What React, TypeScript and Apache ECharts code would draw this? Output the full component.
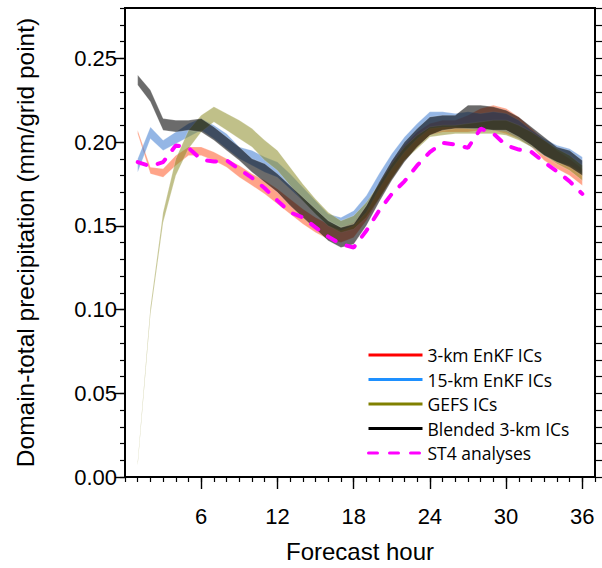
import React, { useEffect, useRef } from "react";
import * as echarts from "echarts";

const hours = [1, 2, 3, 4, 5, 6, 7, 8, 9, 10, 11, 12, 13, 14, 15, 16, 17, 18, 19, 20, 21, 22, 23, 24, 25, 26, 27, 28, 29, 30, 31, 32, 33, 34, 35, 36];

const enkf3Low = [0.205, 0.181, 0.179, 0.186, 0.192, 0.192, 0.189, 0.185, 0.179, 0.174, 0.169, 0.163, 0.157, 0.151, 0.146, 0.142, 0.140, 0.143, 0.153, 0.166, 0.178, 0.189, 0.197, 0.204, 0.206, 0.206, 0.206, 0.207, 0.207, 0.205, 0.202, 0.197, 0.189, 0.184, 0.180, 0.174];
const enkf3High = [0.207, 0.185, 0.184, 0.192, 0.197, 0.197, 0.194, 0.190, 0.186, 0.181, 0.177, 0.172, 0.166, 0.160, 0.155, 0.151, 0.149, 0.152, 0.162, 0.175, 0.188, 0.198, 0.206, 0.211, 0.213, 0.213, 0.216, 0.220, 0.222, 0.220, 0.215, 0.208, 0.201, 0.195, 0.190, 0.184];

const enkf15Low = [0.182, 0.202, 0.195, 0.199, 0.203, 0.207, 0.202, 0.196, 0.190, 0.186, 0.182, 0.179, 0.172, 0.165, 0.157, 0.150, 0.147, 0.150, 0.158, 0.172, 0.184, 0.194, 0.202, 0.208, 0.209, 0.209, 0.208, 0.207, 0.207, 0.206, 0.202, 0.197, 0.192, 0.188, 0.186, 0.181];
const enkf15High = [0.190, 0.209, 0.201, 0.206, 0.211, 0.214, 0.210, 0.205, 0.197, 0.195, 0.191, 0.188, 0.181, 0.173, 0.165, 0.157, 0.155, 0.159, 0.168, 0.181, 0.193, 0.203, 0.211, 0.218, 0.218, 0.217, 0.218, 0.217, 0.218, 0.217, 0.213, 0.207, 0.202, 0.198, 0.196, 0.191];

const gefsLow = [0.007, 0.097, 0.152, 0.180, 0.196, 0.206, 0.212, 0.207, 0.202, 0.197, 0.189, 0.183, 0.174, 0.165, 0.157, 0.150, 0.146, 0.148, 0.155, 0.166, 0.178, 0.189, 0.196, 0.203, 0.204, 0.205, 0.205, 0.205, 0.205, 0.204, 0.201, 0.197, 0.192, 0.187, 0.183, 0.177];
const gefsHigh = [0.009, 0.101, 0.158, 0.190, 0.207, 0.216, 0.221, 0.217, 0.213, 0.208, 0.201, 0.195, 0.185, 0.175, 0.166, 0.158, 0.153, 0.156, 0.164, 0.175, 0.187, 0.197, 0.204, 0.209, 0.210, 0.210, 0.211, 0.212, 0.213, 0.213, 0.210, 0.206, 0.201, 0.196, 0.192, 0.186];

const blendLow = [0.234, 0.224, 0.207, 0.206, 0.207, 0.206, 0.201, 0.195, 0.189, 0.182, 0.176, 0.170, 0.162, 0.155, 0.148, 0.141, 0.137, 0.139, 0.150, 0.164, 0.177, 0.188, 0.197, 0.204, 0.207, 0.208, 0.208, 0.208, 0.207, 0.207, 0.203, 0.198, 0.192, 0.188, 0.185, 0.180];
const blendHigh = [0.240, 0.231, 0.214, 0.213, 0.213, 0.214, 0.209, 0.203, 0.197, 0.190, 0.187, 0.181, 0.174, 0.167, 0.160, 0.153, 0.149, 0.151, 0.162, 0.176, 0.189, 0.200, 0.208, 0.215, 0.216, 0.216, 0.222, 0.222, 0.221, 0.219, 0.215, 0.209, 0.203, 0.197, 0.195, 0.189];

const st4 = [0.188, 0.1855, 0.188, 0.198, 0.1965, 0.1895, 0.1883, 0.189, 0.1838, 0.1786, 0.1724, 0.165, 0.158, 0.155, 0.149, 0.1435, 0.139, 0.137, 0.147, 0.159, 0.169, 0.1765, 0.186, 0.194, 0.1995, 0.1985, 0.1965, 0.208, 0.205, 0.198, 0.1955, 0.194, 0.188, 0.1825, 0.1765, 0.169];

const legendNames = ["3-km EnKF ICs", "15-km EnKF ICs", "GEFS ICs", "Blended 3-km ICs", "ST4 analyses"];
const legendColors = ["#ff0000", "#1e90ff", "#808000", "#000000", "#ff00ff"];

const xMajorTicks = [6, 12, 18, 24, 30, 36];
const yMajorTicks = [0, 0.05, 0.1, 0.15, 0.2, 0.25];

const AXIS_FONT = "Liberation Sans";

function bandSeries(key: string, low: number[], high: number[], color: string) {
  return {
    type: "custom",
    name: key,
    silent: true,
    z: 2,
    clip: true,
    data: hours.map((h, i) => [h, low[i], high[i]]),
    encode: { x: 0, y: [1, 2] },
    renderItem: (params: any, api: any) => {
      if (params.dataIndex !== 0) return null;
      const top: number[][] = [];
      const bottom: number[][] = [];
      for (let i = 0; i < hours.length; i++) {
        top.push(api.coord([hours[i], high[i]]));
        bottom.push(api.coord([hours[i], low[i]]));
      }
      const points = top.concat(bottom.reverse());
      return {
        type: "polygon",
        shape: { points },
        style: { fill: color, stroke: "rgba(255,255,255,0.35)", lineWidth: 0.6 },
      };
    },
  };
}

export default function App() {
  const ref = useRef<HTMLDivElement>(null);
  useEffect(() => {
    document.body.style.margin = "0";
    if (!ref.current) return;
    const chart = echarts.init(ref.current, undefined, { renderer: "svg" });
    const legendSeries = legendNames.slice(0, 4).map((n, i) => ({
      type: "line",
      name: n,
      data: [],
      symbol: "none",
      color: legendColors[i],
      lineStyle: { color: legendColors[i], width: 3 },
    }));
    const option: any = {
      animation: false,
      backgroundColor: "#ffffff",
      grid: { left: 125, right: 7, top: 8, bottom: 88, show: true, borderColor: "#000", borderWidth: 2, backgroundColor: "transparent" },
      legend: {
        data: legendNames,
        orient: "vertical",
        left: 367,
        top: 345,
        itemWidth: 54,
        itemHeight: 14,
        itemGap: 4.5,
        padding: 0,
        itemStyle: { opacity: 0 },
        lineStyle: { width: 3 },
        textStyle: { fontFamily: "Open Sans", fontSize: 17.5, color: "#000", lineHeight: 20 },
        selectedMode: false,
      },
      xAxis: [
        {
          type: "value",
          min: 0,
          max: 37,
          interval: 1,
          position: "bottom",
          axisLine: { show: true, onZero: false, lineStyle: { color: "#000", width: 2 } },
          axisTick: { show: true, length: 5, lineStyle: { color: "#000", width: 1.2 } },
          axisLabel: { show: false },
          splitLine: { show: false },
        },
        {
          type: "value",
          min: 0,
          max: 37,
          position: "bottom",
          axisLine: { show: false, onZero: false },
          axisTick: { show: true, length: 12, customValues: xMajorTicks, lineStyle: { color: "#000", width: 1.4 } },
          axisLabel: { show: true, customValues: xMajorTicks, margin: 28, fontSize: 22, fontFamily: AXIS_FONT, color: "#000" },
          splitLine: { show: false },
          name: "Forecast hour",
          nameLocation: "middle",
          nameGap: 62,
          nameTextStyle: { fontSize: 24, fontFamily: AXIS_FONT, color: "#000" },
        },
      ],
      yAxis: [
        {
          type: "value",
          min: 0,
          max: 0.28,
          interval: 0.01,
          position: "left",
          axisLine: { show: true, onZero: false, lineStyle: { color: "#000", width: 2 } },
          axisTick: { show: true, length: 5, lineStyle: { color: "#000", width: 1.2 } },
          axisLabel: { show: false },
          splitLine: { show: false },
        },
        {
          type: "value",
          min: 0,
          max: 0.28,
          position: "left",
          axisLine: { show: false, onZero: false },
          axisTick: { show: true, length: 10, customValues: yMajorTicks, lineStyle: { color: "#000", width: 1.4 } },
          axisLabel: {
            show: true,
            customValues: yMajorTicks,
            margin: 8,
            fontSize: 22,
            fontFamily: AXIS_FONT,
            color: "#000",
            formatter: (v: number) => v.toFixed(2),
          },
          splitLine: { show: false },
          name: "Domain-total precipitation (mm/grid point)",
          nameLocation: "middle",
          nameGap: 87,
          nameTextStyle: { fontSize: 24.5, fontFamily: AXIS_FONT, color: "#000" },
        },
        {
          type: "value",
          min: 0,
          max: 0.28,
          interval: 0.01,
          position: "right",
          axisLine: { show: true, onZero: false, lineStyle: { color: "#000", width: 2 } },
          axisTick: { show: true, length: 7, lineStyle: { color: "#000", width: 1.2 } },
          axisLabel: { show: false },
          splitLine: { show: false },
        },
      ],
      series: [
        bandSeries("enkf3", enkf3Low, enkf3High, "rgba(255,90,40,0.55)"),
        bandSeries("enkf15", enkf15Low, enkf15High, "rgba(70,130,210,0.58)"),
        bandSeries("gefs", gefsLow, gefsHigh, "rgba(140,140,40,0.55)"),
        bandSeries("blend", blendLow, blendHigh, "rgba(0,0,0,0.58)"),
        ...legendSeries,
        {
          type: "line",
          name: "ST4 analyses",
          data: hours.map((h, i) => [h, st4[i]]),
          symbol: "none",
          color: "#ff00ff",
          lineStyle: { color: "#ff00ff", width: 4, type: [9, 12], cap: "round" },
          z: 5,
        },
      ],
    };
    chart.setOption(option);
    return () => chart.dispose();
  }, []);
  return <div ref={ref} style={{ width: 602, height: 568 }} />;
}
